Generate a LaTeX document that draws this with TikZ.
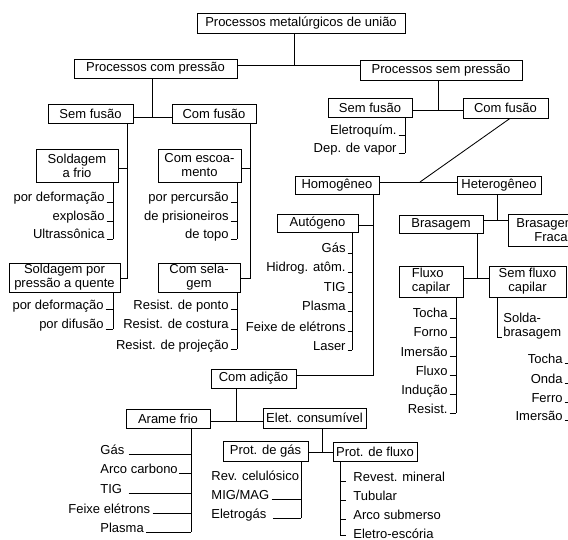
\documentclass[tikz,border=0pt]{standalone}
\usepackage{fontspec}
\setmainfont{Liberation Sans}
\newcommand\rightlist[4]{%
  \foreach \txt/\yy [count=\ii] in {#4}{%
    \node[lf,anchor=base east] (#1\ii) at (#2,\yy) {\txt};
    \draw ([xshift=1.5pt]#1\ii.base east) -- (#1\ii.base east -| #3,0);
  }}
\begin{document}
\begin{tikzpicture}[x=1pt,y=-1pt,line width=0.85pt,
  bx/.style={draw,inner sep=0pt,align=center,font=\fontsize{13}{14}\selectfont},
  lf/.style={inner sep=0pt,font=\fontsize{13}{14}\selectfont}]
\useasboundingbox (0,0) rectangle (568,540);
\clip (0,0) rectangle (568,540);

% ---- top levels
\node[bx,minimum width=208pt,minimum height=20pt] (root) at (301,23) {Processos metalúrgicos de união};
\node[bx,minimum width=163pt,minimum height=19pt] (pcp) at (155.5,68.5) {Processos com pressão};
\node[bx,minimum width=162pt,minimum height=20pt] (psp) at (441,70) {Processos sem pressão};
\coordinate (j0) at (294,65);
\draw (root.south -| j0) -- (j0);
\draw (pcp.east |- j0) -- (psp.west |- j0);

% ---- left branch
\node[bx,minimum width=85pt,minimum height=19pt] (sf1) at (90.5,113.5) {Sem fusão};
\node[bx,minimum width=84pt,minimum height=19pt] (cf1) at (214,113.5) {Com fusão};
\coordinate (j1) at (152,117);
\draw (pcp.south -| j1) -- (j1);
\draw (sf1.east |- j1) -- (cf1.west |- j1);

\node[bx,minimum width=82pt,minimum height=33pt] (saf) at (77,165.5) {Soldagem\\a frio};
\node[bx,minimum width=111pt,minimum height=29pt] (spq) at (64.5,277.5) {Soldagem por\\pressão a quente};
\coordinate (v1) at (127,0);
\draw (saf.east |- 0,168) -| (sf1.south -| v1);
\draw (spq.east |- 0,278) -| (sf1.south -| v1);

\node[bx,minimum width=83pt,minimum height=33pt] (ces) at (199.5,165.5) {Com escoa-\\mento};
\node[bx,minimum width=82pt,minimum height=29pt] (csel) at (199,277.5) {Com sela-\\gem};
\coordinate (v2) at (250,0);
\draw (ces.east |- 0,168) -| (cf1.south -| v2);
\draw (csel.east |- 0,278) -| (cf1.south -| v2);

\rightlist{sa}{105}{113}{por deformação/202,explosão/221,Ultrassônica/239}
\draw (saf.south -| 113,0) -- (sa3.base east -| 113,0);
\rightlist{sq}{104}{113}{por deformação/309,por difusão/329}
\draw (spq.south -| 113,0) -- (sq2.base east -| 113,0);
\rightlist{ce}{229}{237}{por percursão/202,de prisioneiros/221,de topo/239}
\draw (ces.south -| 237,0) -- (ce3.base east -| 237,0);
\rightlist{cs}{229}{237}{Resist. de ponto/309,Resist. de costura/329,Resist. de projeção/349}
\draw (csel.south -| 237,0) -- (cs3.base east -| 237,0);

% ---- right branch
\node[bx,minimum width=84pt,minimum height=19pt] (sf2) at (370,107.5) {Sem fusão};
\node[bx,minimum width=85pt,minimum height=20pt] (cf2) at (505.5,108) {Com fusão};
\coordinate (j2) at (438,110);
\draw (psp.south -| j2) -- (j2);
\draw (sf2.east |- j2) -- (cf2.west |- j2);
\rightlist{se}{397}{405}{Eletroquím./135,Dep. de vapor/153}
\draw (sf2.south -| 405,0) -- (se2.base east -| 405,0);

\node[bx,minimum width=84pt,minimum height=18pt] (hom) at (337,185) {Homogêneo};
\node[bx,minimum width=84pt,minimum height=18pt] (het) at (499,185) {Heterogêneo};
\coordinate (jd) at (420,182);
\draw (hom.east |- jd) -- (het.west |- jd);
\draw (cf2.south -| 510,0) -- (jd);

\node[bx,minimum width=81pt,minimum height=18pt] (aut) at (317.5,223) {Autógeno};
\node[bx,minimum width=85pt,minimum height=19pt] (cad) at (253.5,378.5) {Com adição};
\coordinate (v3) at (373,0);
\draw (aut.east |- 0,225) -| (hom.south -| v3);
\draw (cad.east |- 0,375) -| (hom.south -| v3);
\rightlist{au}{346}{352}{Gás/253,Hidrog. atôm./272,TIG/292,Plasma/311,Feixe de elétrons/331,Laser/350}
\draw (aut.south -| 352,0) -- (au6.base east -| 352,0);

\node[bx,minimum width=84pt,minimum height=18pt] (bras) at (441,224) {Brasagem};
\node[bx,align=left,inner xsep=8pt,minimum height=32pt,anchor=west] (bfr) at (508,230) {Brasagem\\\hspace*{18pt}Fraca};
\coordinate (j3) at (497,220);
\draw (het.south -| j3) -- (j3);
\draw (bras.east |- j3) -- (bfr.west |- j3);

\node[bx,align=left,minimum width=64pt,minimum height=31pt] (flc) at (431,281.5) {Fluxo\\capilar};
\node[bx,minimum width=77pt,minimum height=31pt] (sflc) at (527.5,281.5) {Sem fluxo\\capilar};
\coordinate (j4) at (477,278);
\draw (bras.south -| j4) -- (j4);
\draw (flc.east |- j4) -- (sflc.west |- j4);
\rightlist{fc}{448}{456}{Tocha/318,Forno/337,Imersão/356,Fluxo/375,Indução/394,Resist./413}
\draw (flc.south -| 456,0) -- (fc6.base east -| 456,0);

\node[lf,align=left,anchor=west] (sb) at (503,326.5) {Solda-\\brasagem};
\draw (sflc.south -| 497,0) |- ([xshift=-1pt]sb.west |- 0,337);

\rightlist{bf}{563}{575}{Tocha/363,Onda/383,Ferro/402,Imersão/420}
\draw (bfr.south -| 575,0) -- (bf4.base east -| 575,0);

% ---- com adição
\node[bx,minimum width=84pt,minimum height=19pt] (arf) at (168,419) {Arame frio};
\node[bx,minimum width=103pt,minimum height=20pt] (elc) at (314.5,418) {Elet. consumível};
\coordinate (j5) at (236,421);
\draw (cad.south -| j5) -- (j5);
\draw (arf.east |- j5) -- (elc.west |- j5);

\node[lf,anchor=base west] (af1) at (100,454) {Gás};
\node[lf,anchor=base west] (af2) at (100,473) {Arco carbono};
\node[lf,anchor=base west] (af3) at (100,493) {TIG};
\node[lf,anchor=base west] (af4) at (68,513) {Feixe elétrons};
\node[lf,anchor=base west] (af5) at (100,532) {Plasma};
\draw ([xshift=4pt]af1.base east) -- (af1.base east -| 191,0);
\draw ([xshift=1pt]af2.base east) -- (af2.base east -| 191,0);
\draw ([xshift=6pt]af3.base east) -- (af3.base east -| 191,0);
\draw ([xshift=2pt]af4.base east) -- (af4.base east -| 191,0);
\draw ([xshift=2pt]af5.base east) -- (af5.base east -| 191,0);
\draw (arf.south -| 191,0) -- (af5.base east -| 191,0);

\node[bx,minimum width=85pt,minimum height=20pt] (pgas) at (265.5,451) {Prot. de gás};
\node[bx,minimum width=84pt,minimum height=19pt] (pflx) at (375,451.5) {Prot. de fluxo};
\coordinate (j6) at (322,452);
\draw (elc.south -| j6) -- (j6);
\draw (pgas.east |- j6) -- (pflx.west |- j6);

\node[lf,anchor=base west] (pg1) at (211,480) {Rev. celulósico};
\node[lf,anchor=base west] (pg2) at (211,499) {MIG/MAG};
\node[lf,anchor=base west] (pg3) at (211,518) {Eletrogás};
\draw ([xshift=1pt]pg1.base east) -- (pg1.base east -| 301,0);
\draw ([xshift=2pt]pg2.base east) -- (pg2.base east -| 301,0);
\draw ([xshift=6pt]pg3.base east) -- (pg3.base east -| 301,0);
\draw (pgas.south -| 301,0) -- (pg3.base east -| 301,0);

\node[lf,anchor=base west] (pf1) at (353,481) {Revest. mineral};
\node[lf,anchor=base west] (pf2) at (353,500) {Tubular};
\node[lf,anchor=base west] (pf3) at (353,519) {Arco submerso};
\node[lf,anchor=base west] (pf4) at (353,538) {Eletro-escória};
\coordinate (pfe) at (346,535);
\draw (pflx.south -| 340,0) |- (pfe);
\draw (pf1.base west -| 340,0) -- (pf1.base west -| pfe);
\draw (pf2.base west -| 340,0) -- (pf2.base west -| pfe);
\draw (pf3.base west -| 340,0) -- (pf3.base west -| pfe);
\end{tikzpicture}
\end{document}
